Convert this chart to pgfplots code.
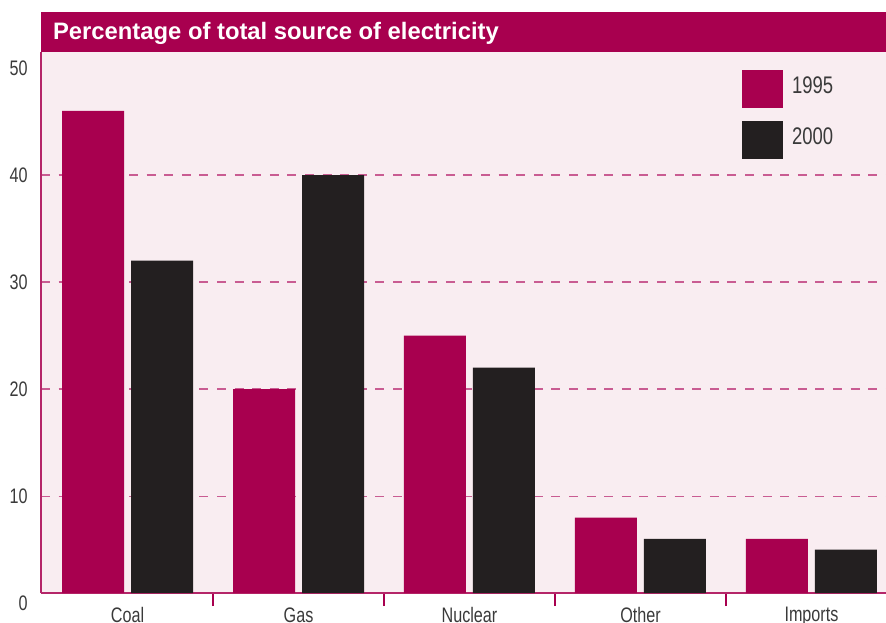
\documentclass[border=0pt]{standalone}
\usepackage{fontspec}
\setmainfont{Liberation Sans}[FakeStretch=0.77]
\newfontfamily\bannerfont{Liberation Sans}
\usepackage{pgfplots}
\pgfplotsset{compat=1.18}

\definecolor{ruby}{HTML}{A8004F}
\definecolor{ink}{HTML}{231F20}
\definecolor{blush}{HTML}{F9EDF1}
\definecolor{gridrose}{HTML}{C95C92}
\definecolor{labelgray}{HTML}{3A3A3A}

\pgfplotsset{
  swatch legend/.style={
    legend image code/.code={\fill[##1] (0pt,-10.5pt) rectangle (20.5pt,8.5pt);}
  }
}

\begin{document}
\begin{tikzpicture}
\path[use as bounding box] (0,0) rectangle (443pt,311pt);
\begin{axis}[
  at={(20.5pt,14.5pt)}, anchor=south west,
  scale only axis, width=422.5pt, height=270.5pt,
  xmin=-0.506, xmax=4.436, ymin=0.95, ymax=51.5,
  ybar=3.5pt, bar width=31pt,
  swatch legend,
  xtick={0,...,4},
  xticklabels={Coal,Gas,Nuclear,Other,Imports},
  minor x tick num=1,
  major tick length=0pt, minor tick length=6.5pt,
  tick style={draw=ruby, line width=0.65pt},
  ytick={10,20,30,40}, extra y ticks={50},
  extra y tick style={grid=none},
  ymajorgrids,
  major grid style={draw=gridrose, line width=0.65pt, dash pattern=on 4.5pt off 4.3pt},
  axis x line*=bottom, axis y line*=left,
  axis line style={draw=ruby!85, line width=0.65pt, -},
  axis background/.style={fill=blush},
  /pgf/number format/assume math mode=true,
  ticklabel style={font=\fontsize{10.5}{12}\selectfont, text=labelgray, inner sep=0pt},
  yticklabel style={anchor=east, xshift=-6.5pt},
  xticklabel style={anchor=north, yshift=-7pt},
  legend style={
    at={(rel axis cs:0.8296,0.9667)}, anchor=north west,
    draw=none, fill=none, inner sep=0pt, outer sep=0pt,
    row sep=6.5pt, column sep=4.5pt,
    font=\fontsize{12}{14}\selectfont, text=labelgray,
    nodes={inner sep=0pt},
  },
]
\addplot[fill=ruby, draw=none, swatch legend]
  coordinates {(0,46) (1,20) (2,25) (3,8) (4,6)};
\addplot[fill=ink, draw=none, swatch legend]
  coordinates {(0,32) (1,40) (2,22) (3,6) (4,5)};
\legend{1995,2000}
\coordinate (zeropt) at (axis cs:-0.506,0);
\end{axis}

% zero label sits below the visible floor of the plot area
\node[anchor=east, inner sep=0pt, text=labelgray,
      font=\fontsize{10.5}{12}\selectfont] at ([xshift=-6.5pt]zeropt) {0};

% title banner
\fill[ruby] (20.5pt,285pt) rectangle (443pt,304.75pt);
\node[anchor=base west, inner sep=0pt, text=white,
      font=\bannerfont\bfseries\fontsize{11.9}{14}\selectfont]
  at (26.35pt,291.35pt) {Percentage of total source of electricity};
\end{tikzpicture}
\end{document}
